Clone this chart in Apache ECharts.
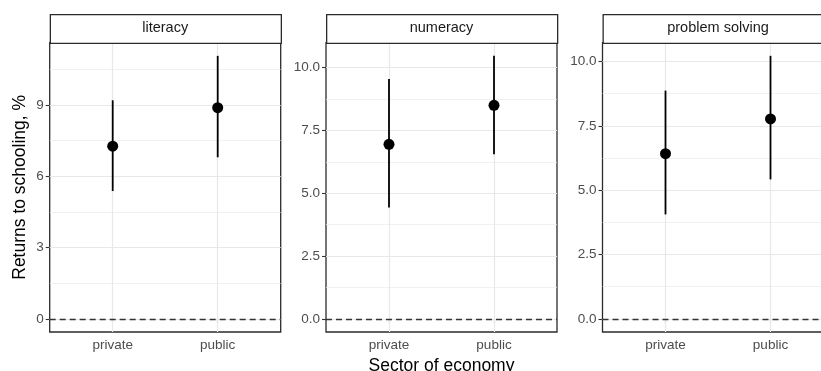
<!DOCTYPE html>
<html>
<head>
<meta charset="utf-8">
<script src="https://cdn.jsdelivr.net/npm/echarts@6/dist/echarts.min.js"></script>
<style>
html,body{margin:0;padding:0;background:#fff;}
#chart{width:821px;height:371px;}
</style>
</head>
<body>
<div id="chart"></div>
<script>
// ---- data ----
const categories = ['private', 'public'];
const panelTitles = ['literacy', 'numeracy', 'problem solving'];

const literacyEst = [7.27, 8.89];
const literacyLo  = [5.38, 6.80];
const literacyHi  = [9.20, 11.07];

const numeracyEst = [6.95, 8.50];
const numeracyLo  = [4.43, 6.55];
const numeracyHi  = [9.55, 10.47];

const problemEst = [6.42, 7.77];
const problemLo  = [4.06, 5.42];
const problemHi  = [8.87, 10.22];

const literacyTicks = [0, 3, 6, 9];
const literacyTickLabels = ['0', '3', '6', '9'];
const literacyMinor = [1.5, 4.5, 7.5, 10.5];

const otherTicks = [0, 2.5, 5, 7.5, 10];
const otherTickLabels = ['0.0', '2.5', '5.0', '7.5', '10.0'];
const otherMinor = [1.25, 3.75, 6.25, 8.75];

const xTitle = 'Sector of economy';
const yTitle = 'Returns to schooling, %';

// ---- layout ----
const FONT = 'Liberation Sans, Arial, sans-serif';
const lefts = [49.7, 326, 602.5];
const gridW = 231;
const gridTop = 42.7;
const gridH = 289.3;
const stripTop = 14;

const panels = [
  {title: panelTitles[0], est: literacyEst, lo: literacyLo, hi: literacyHi, ticks: literacyTicks, labels: literacyTickLabels, minor: literacyMinor},
  {title: panelTitles[1], est: numeracyEst, lo: numeracyLo, hi: numeracyHi, ticks: otherTicks, labels: otherTickLabels, minor: otherMinor},
  {title: panelTitles[2], est: problemEst, lo: problemLo, hi: problemHi, ticks: otherTicks, labels: otherTickLabels, minor: otherMinor}
];

const catPos = categories.map((c, i) => i + 1);

const grid = [], xAxis = [], yAxis = [], series = [], graphic = [];

panels.forEach((p, k) => {
  grid.push({left: lefts[k], top: gridTop, width: gridW, height: gridH,
    show: true, borderColor: '#2B2B2B', borderWidth: 1.3, backgroundColor: '#fff',
    containLabel: false, outerBoundsMode: 'none'});
  const dmin = 0, dmax = Math.max(...p.hi);
  const pad = 0.05 * (dmax - dmin);
  xAxis.push({
    type: 'value', gridIndex: k, min: 0.4, max: 2.6,
    axisLine: {show: false},
    splitLine: {show: false},
    axisTick: {show: true, customValues: catPos, length: 4, lineStyle: {color: '#333333', width: 1.1}},
    axisLabel: {show: true, customValues: catPos, margin: 6, color: '#4D4D4D', fontSize: 13.5, fontFamily: FONT,
      formatter: v => categories[Math.round(v) - 1]},
    name: k === 1 ? xTitle : '', nameLocation: 'middle', nameGap: 23,
    nameTextStyle: {color: '#000', fontSize: 17.5, fontFamily: FONT}
  });
  yAxis.push({
    type: 'value', gridIndex: k, min: dmin - pad, max: dmax + pad,
    axisLine: {show: false},
    splitLine: {show: false},
    axisTick: {show: true, customValues: p.ticks, length: 4, lineStyle: {color: '#333333', width: 1.1}},
    axisLabel: {show: true, customValues: p.ticks, margin: 6, color: '#4D4D4D', fontSize: 13.5, fontFamily: FONT,
      formatter: v => p.labels[p.ticks.indexOf(v)]},
    name: k === 0 ? yTitle : '', nameLocation: 'middle', nameGap: 21,
    nameTextStyle: {color: '#000', fontSize: 17.5, fontFamily: FONT}
  });

  const gridLines = [];
  p.minor.forEach(v => gridLines.push({yAxis: v, lineStyle: {color: '#EBEBEB', width: 0.7, type: 'solid'}}));
  p.ticks.forEach(v => gridLines.push({yAxis: v, lineStyle: {color: '#E8E8E8', width: 1.2, type: 'solid'}}));
  catPos.forEach(v => gridLines.push({xAxis: v, lineStyle: {color: '#E8E8E8', width: 1.2, type: 'solid'}}));

  series.push({
    type: 'line', xAxisIndex: k, yAxisIndex: k, data: [], silent: true, z: 1,
    markLine: {silent: true, symbol: 'none', z: 1, label: {show: false}, animation: false, data: gridLines}
  });
  series.push({
    type: 'line', xAxisIndex: k, yAxisIndex: k, data: [], silent: true, z: 2,
    markLine: {silent: true, symbol: 'none', z: 2, label: {show: false}, animation: false,
      data: [{yAxis: 0, lineStyle: {color: '#333333', width: 1.4, type: [6, 4]}}]}
  });
  series.push({
    type: 'custom', xAxisIndex: k, yAxisIndex: k, z: 3, silent: true,
    data: catPos.map((x, i) => [x, p.lo[i], p.hi[i]]),
    encode: {x: 0, y: [1, 2]},
    renderItem: (params, api) => {
      const a = api.coord([api.value(0), api.value(1)]);
      const b = api.coord([api.value(0), api.value(2)]);
      return {type: 'line', shape: {x1: a[0], y1: a[1], x2: b[0], y2: b[1]},
        style: {stroke: '#000', lineWidth: 1.8}};
    }
  });
  series.push({
    type: 'scatter', xAxisIndex: k, yAxisIndex: k, z: 4, silent: true,
    symbol: 'circle', symbolSize: 11,
    itemStyle: {color: '#000', opacity: 1},
    data: catPos.map((x, i) => [x, p.est[i]])
  });

  graphic.push({
    type: 'rect', left: lefts[k], top: stripTop, silent: true, z: 10,
    shape: {width: gridW, height: gridTop - stripTop},
    style: {fill: '#fff', stroke: '#2B2B2B', lineWidth: 1.3}
  });
  graphic.push({
    type: 'text', x: lefts[k] + gridW / 2, y: (stripTop + gridTop) / 2, silent: true, z: 11,
    style: {text: p.title, fill: '#1A1A1A', fontSize: 14.5, fontFamily: FONT, align: 'center', verticalAlign: 'middle'}
  });
});

const chart = echarts.init(document.getElementById('chart'), null, {renderer: 'canvas'});
chart.setOption({
  animation: false,
  backgroundColor: '#fff',
  grid, xAxis, yAxis, series, graphic
});
</script>
</body>
</html>
